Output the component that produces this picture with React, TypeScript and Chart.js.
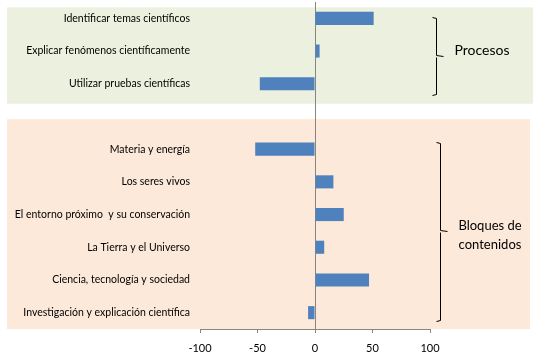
import React, { useEffect, useRef } from 'react';
import { Chart, registerables } from 'chart.js';

Chart.register(...registerables);

const categories = [
  'Identificar temas científicos',
  'Explicar fenómenos científicamente',
  'Utilizar pruebas científicas',
  '',
  'Materia y energía',
  'Los seres vivos',
  'El entorno próximo  y su conservación',
  'La Tierra y el Universo',
  'Ciencia, tecnología y sociedad',
  'Investigación y explicación científica',
];
const values: (number | null)[] = [51, 4, -48, null, -52, 16, 25, 8, 47, -6];
const xTicks = [-100, -50, 0, 50, 100];
const groupLabels = [['Procesos'], ['Bloques de', 'contenidos']];
const groupRanges = [[0, 2], [4, 9]];

const FONT = 'Lato, "Open Sans", sans-serif';

const decorPlugin = {
  id: 'decor',
  beforeDraw(chart: any) {
    const { ctx, chartArea } = chart;
    const y = chart.scales.y;
    const W = chart.width;
    ctx.save();
    ctx.fillStyle = '#ffffff';
    ctx.fillRect(0, 0, W, chart.height);
    const gTop = y.getPixelForValue(0) - 11;
    const gBot = y.getPixelForValue(2) + 20;
    ctx.fillStyle = '#EBF1DE';
    ctx.fillRect(7, gTop, W - 7, gBot - gTop);
    const pTop = y.getPixelForValue(4) - 30;
    const pBot = chartArea.bottom;
    ctx.fillStyle = '#FDE9D9';
    ctx.fillRect(7, pTop, W - 10, pBot - pTop);
    ctx.restore();
  },
  afterDraw(chart: any) {
    const { ctx } = chart;
    const y = chart.scales.y;
    ctx.save();
    ctx.strokeStyle = '#000';
    ctx.lineWidth = 1;
    const p0 = y.getPixelForValue(groupRanges[0][0]);
    const p1 = y.getPixelForValue(groupRanges[1][0]);
    const specs = [
      { x: 436.5, top: p0 - 1, bot: y.getPixelForValue(groupRanges[0][1]) + 11, tx: 482, lines: groupLabels[0], ty: p0 + 32, size: 14 },
      { x: 440.5, top: p1 - 7, bot: y.getPixelForValue(groupRanges[1][1]) + 8, tx: 490, lines: groupLabels[1], ty: p1 + 77, size: 13 },
    ];
    specs.forEach((s) => {
      const mid = Math.round((s.top + s.bot) / 2) + 0.5;
      const top = Math.round(s.top) + 0.5;
      const bot = Math.round(s.bot) + 0.5;
      ctx.beginPath();
      ctx.moveTo(s.x - 4, top);
      ctx.lineTo(s.x, top + 1);
      ctx.lineTo(s.x, mid - 1);
      ctx.lineTo(s.x + 7, mid);
      ctx.moveTo(s.x, mid + 1);
      ctx.lineTo(s.x, bot - 1);
      ctx.lineTo(s.x - 4, bot);
      ctx.stroke();
      ctx.fillStyle = '#000';
      ctx.font = `${s.size}px ${FONT}`;
      ctx.textAlign = 'center';
      ctx.textBaseline = 'middle';
      s.lines.forEach((l, i) => ctx.fillText(l, s.tx, s.ty + i * 19));
    });
    ctx.restore();
  },
};

export default function App() {
  const ref = useRef<HTMLCanvasElement>(null);
  useEffect(() => {
    document.body.style.margin = '0';
    const chart = new Chart(ref.current as HTMLCanvasElement, {
      type: 'bar',
      data: {
        labels: categories,
        datasets: [
          {
            data: values,
            backgroundColor: '#4F81BD',
            borderWidth: 0,
            barPercentage: 0.4,
            categoryPercentage: 1,
          },
        ],
      },
      options: {
        indexAxis: 'y',
        responsive: false,
        animation: false,
        layout: { padding: { top: 2, right: 103, left: 0, bottom: 0 } },
        plugins: { legend: { display: false }, tooltip: { enabled: false } },
        scales: {
          x: {
            min: -100,
            max: 100,
            afterBuildTicks: (scale: any) => {
              scale.ticks = xTicks.map((v) => ({ value: v }));
            },
            afterFit: (scale: any) => {
              scale.height = 32;
            },
            grid: {
              color: (c: any) => (c.tick && c.tick.value === 0 ? '#868686' : 'rgba(0,0,0,0)'),
              tickColor: '#868686',
              tickLength: 4,
              lineWidth: 1,
            },
            border: { display: true, color: '#868686' },
            ticks: { color: '#000', font: { family: FONT, size: 11 }, padding: 9, maxRotation: 0 },
          },
          y: {
            afterFit: (scale: any) => {
              scale.width = 200;
              scale.paddingTop = 0;
              scale.paddingBottom = 0;
            },
            grid: { display: false, drawTicks: false },
            border: { display: false },
            ticks: { color: '#000', font: { family: FONT, size: 10.5 }, padding: 10, autoSkip: false },
          },
        },
      },
      plugins: [decorPlugin],
    });
    return () => chart.destroy();
  }, []);
  return <canvas ref={ref} width={533} height={361} style={{ display: 'block' }} />;
}
